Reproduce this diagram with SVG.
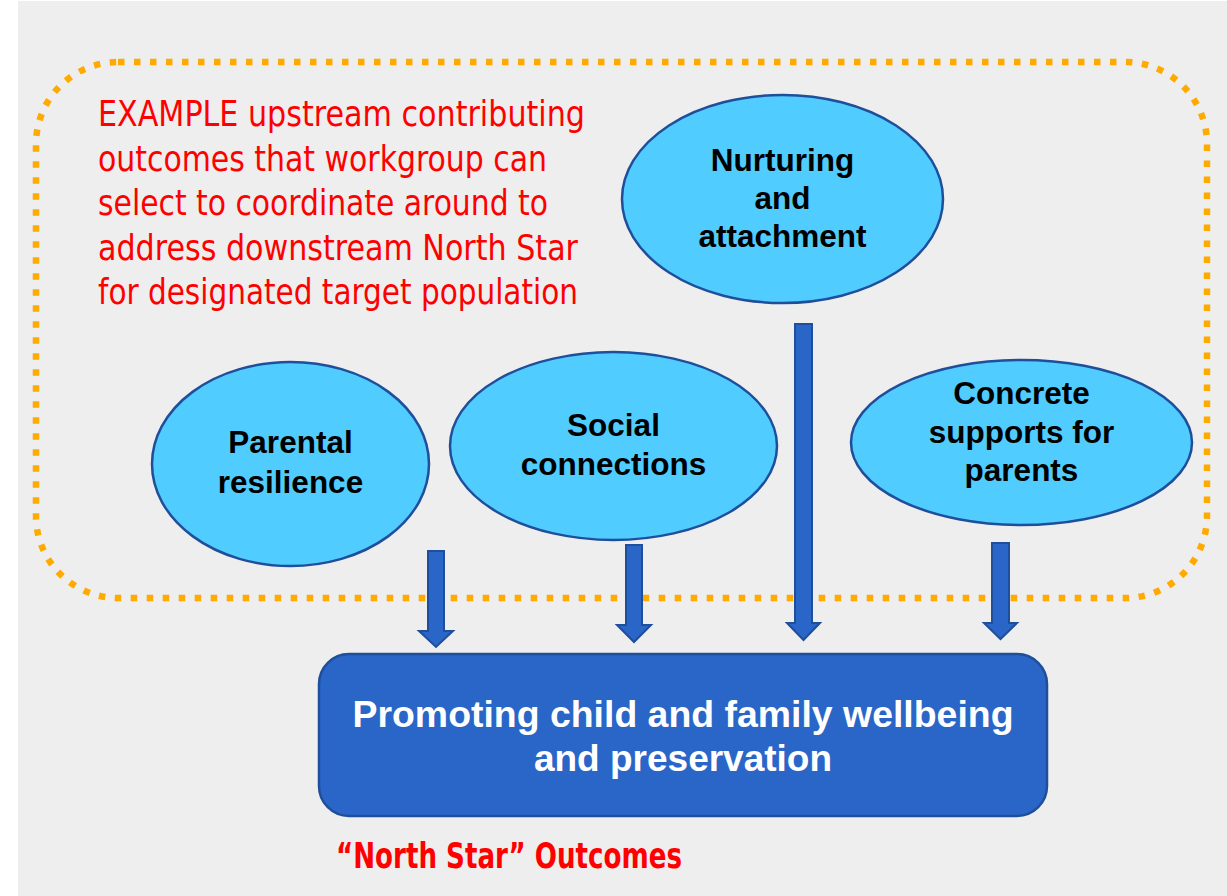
<svg xmlns="http://www.w3.org/2000/svg" width="1227" height="896" viewBox="0 0 1227 896">
<style>
.bg{fill:#EEEEEE}
.border{fill:none;stroke:#FFAA00;stroke-width:6.5;stroke-dasharray:6.5 9.5}
.oval{fill:#50CCFF;stroke:#1F4E9A;stroke-width:2.5}
.otext{font-family:"Liberation Sans",Arial,sans-serif;font-weight:bold;font-size:31.5px;fill:#000;text-anchor:middle}
.arrow{fill:#2A66C8;stroke:#1F4E9A;stroke-width:2;stroke-linejoin:miter}
.box{fill:#2A66C8;stroke:#1F4E9A;stroke-width:2.5}
.btext{font-family:"Liberation Sans",Arial,sans-serif;font-weight:bold;font-size:37px;fill:#fff;text-anchor:middle}
.red{font-family:"Liberation Sans Narrow","DejaVu Sans Condensed","Liberation Sans",sans-serif;font-size:35px;fill:#FF0000}
.redb{font-family:"Liberation Sans Narrow","DejaVu Sans Condensed","Liberation Sans",sans-serif;font-weight:bold;font-size:36px;fill:#FF0000}
</style>
<rect class="bg" x="18" y="1" width="1209" height="895"/>
<g id="upstream-region">
<rect class="border" x="36" y="62" width="1171" height="536" rx="82" ry="82"/>
<g id="intro-text">
<text class="red" x="98" y="126" textLength="487" lengthAdjust="spacingAndGlyphs">EXAMPLE upstream contributing</text>
<text class="red" x="98" y="170.5" textLength="449" lengthAdjust="spacingAndGlyphs">outcomes that workgroup can</text>
<text class="red" x="98" y="215" textLength="450" lengthAdjust="spacingAndGlyphs">select to coordinate around to</text>
<text class="red" x="98" y="259.5" textLength="480" lengthAdjust="spacingAndGlyphs">address downstream North Star</text>
<text class="red" x="98" y="304" textLength="480" lengthAdjust="spacingAndGlyphs">for designated target population</text>
</g>
</g>
<g id="node-nurturing">
<ellipse class="oval" cx="782.5" cy="199" rx="160.5" ry="104"/>
<text class="otext" x="782.5" y="171">Nurturing</text>
<text class="otext" x="782.5" y="209">and</text>
<text class="otext" x="782.5" y="247">attachment</text>
</g>
<g id="node-parental">
<ellipse class="oval" cx="290.5" cy="464" rx="138.5" ry="102"/>
<text class="otext" x="290.5" y="453">Parental</text>
<text class="otext" x="290.5" y="493">resilience</text>
</g>
<g id="node-social">
<ellipse class="oval" cx="613.5" cy="446" rx="163.5" ry="94"/>
<text class="otext" x="613.5" y="436">Social</text>
<text class="otext" x="613.5" y="475">connections</text>
</g>
<g id="node-concrete">
<ellipse class="oval" cx="1021.5" cy="442.5" rx="170.5" ry="82.5"/>
<text class="otext" x="1021.5" y="404">Concrete</text>
<text class="otext" x="1021.5" y="443">supports for</text>
<text class="otext" x="1021.5" y="481">parents</text>
</g>
<g id="connectors">
<path class="arrow" d="M428,551 H444 V631 H453 L436,647 L419,631 H428 Z"/>
<path class="arrow" d="M626,545 H642 V625 H651 L634,642 L617,625 H626 Z"/>
<path class="arrow" d="M795,324 H812 V623 H820 L803.5,640 L787,623 H795 Z"/>
<path class="arrow" d="M992,543 H1009 V623 H1017 L1000.5,639 L984,623 H992 Z"/>
</g>
<g id="node-northstar">
<rect class="box" x="319" y="654" width="728" height="162" rx="30" ry="30"/>
<text class="btext" x="683" y="727" textLength="661" lengthAdjust="spacingAndGlyphs">Promoting child and family wellbeing</text>
<text class="btext" x="683" y="771">and preservation</text>
</g>
<g id="northstar-label">
<text class="redb" x="336" y="868" textLength="346" lengthAdjust="spacingAndGlyphs">“North Star” Outcomes</text>
</g>
</svg>
